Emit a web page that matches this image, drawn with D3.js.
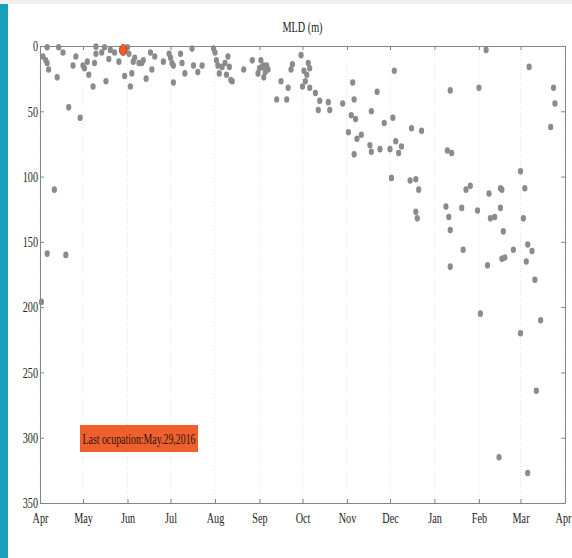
<!DOCTYPE html>
<html>
<head>
<meta charset="utf-8">
<script src="https://cdnjs.cloudflare.com/ajax/libs/d3/7.8.5/d3.min.js"></script>
<style>
  html, body { margin: 0; padding: 0; background: #fff; }
  text { font-family: "Liberation Serif", "Times New Roman", serif; fill: #222; }
</style>
</head>
<body>
<div id="chart"></div>
<script>
// MLD observations (date, depth in m)
var obsDates = [
  "2015-04-03","2015-04-05","2015-04-06","2015-04-07","2015-04-06","2015-04-14","2015-04-17","2015-04-13",
  "2015-04-21","2015-04-29","2015-04-24","2015-04-26","2015-05-01","2015-05-02","2015-05-04","2015-05-05",
  "2015-05-08","2015-05-10","2015-05-10","2015-05-09","2015-05-14","2015-05-16","2015-05-17","2015-05-19",
  "2015-05-20","2015-05-23","2015-05-26","2015-05-30","2015-06-01","2015-06-02","2015-06-03","2015-06-04",
  "2015-06-05","2015-06-06","2015-06-09","2015-06-12","2015-06-11","2015-06-14","2015-06-17","2015-06-18",
  "2015-06-20","2015-06-26","2015-06-30","2015-07-01","2015-07-02","2015-07-03","2015-07-03","2015-07-08",
  "2015-07-09","2015-07-11","2015-07-16","2015-07-17","2015-07-20","2015-07-23","2015-07-31","2015-08-01",
  "2015-08-02","2015-08-03","2015-08-04","2015-08-06","2015-08-08","2015-08-10","2015-08-09","2015-08-11",
  "2015-08-12","2015-08-13","2015-08-21","2015-08-27","2015-09-02","2015-09-03","2015-09-01","2015-08-31",
  "2015-09-04","2015-09-05","2015-09-06","2015-09-07","2015-09-04","2015-09-16","2015-09-13","2015-09-20",
  "2015-09-21","2015-09-23","2015-09-24","2015-09-30","2015-10-02","2015-10-04","2015-10-05","2015-10-06",
  "2015-10-01","2015-10-03","2015-10-06","2015-10-10","2015-10-13","2015-10-12","2015-10-19","2015-10-20",
  "2015-10-29","2015-11-05","2015-11-06","2015-11-04","2015-11-07","2015-11-02","2015-11-08","2015-11-11",
  "2015-11-06","2015-11-18","2015-11-22","2015-11-17","2015-11-18","2015-11-24","2015-11-27","2015-12-01",
  "2015-12-03","2015-12-04","2015-12-05","2015-12-07","2015-12-09","2015-12-16","2015-12-23","2015-12-02",
  "2015-12-15","2015-12-19","2015-12-21","2015-12-19","2015-12-20","2016-01-10","2016-01-13","2016-01-12",
  "2016-01-09","2016-01-11","2016-01-12","2016-01-12","2016-01-20","2016-01-21","2016-01-23","2016-01-26",
  "2016-01-31","2016-02-01","2016-02-06","2016-02-02","2016-02-08","2016-02-09","2016-02-12","2016-02-07",
  "2016-02-16","2016-02-17","2016-02-16","2016-02-18","2016-02-17","2016-02-19","2016-02-15","2016-02-25",
  "2016-03-01","2016-03-04","2016-03-03","2016-03-06","2016-03-09","2016-03-05","2016-03-11","2016-03-15",
  "2016-03-01","2016-03-12","2016-03-06","2016-03-07","2016-03-24","2016-03-25","2016-03-22","2015-04-11",
  "2015-04-06","2015-04-19","2015-04-02"
];
var obsMld = [
  8, 11, 13, 18, 1, 1, 5, 24,
  47, 55, 15, 8, 15, 17, 12, 22,
  31, 0.5, 6, 13, 5, 1, 27, 10,
  3, 5, 12, 23, 1, 6, 31, 21,
  12, 9, 13, 11, 13, 25, 5, 18,
  8, 12, 6, 9, 13, 15, 28, 6,
  13, 21, 2, 15, 20, 15, 2, 5,
  11, 15, 21, 16, 13, 8, 22, 16,
  26, 27, 18, 11, 11, 16, 17, 21,
  24, 20, 15, 18, 15, 27, 41, 41,
  32, 18, 14, 7, 19, 22, 13, 17,
  31, 27, 32, 36, 42, 49, 43, 49,
  44, 28, 41, 53, 56, 66, 71, 68,
  83, 50, 35, 76, 81, 79, 59, 79,
  55, 19, 73, 82, 77, 63, 65, 101,
  103, 102, 110, 127, 132, 80, 82, 34,
  123, 131, 141, 169, 124, 156, 110, 107,
  126, 32, 3, 205, 113, 132, 131, 168,
  109, 110, 124, 142, 163, 162, 315, 156,
  96, 109, 132, 152, 157, 165, 179, 210,
  220, 264, 327, 16, 32, 44, 62, 110,
  159, 160, 196
];

// last occupation
var lastDate = "2015-05-29";
var lastMld = 3;
var lastLabel = "Last ocupation:May.29,2016";

var xDomain = ["2015-04-01", "2016-04-01"];
var yTicks = [0, 50, 100, 150, 200, 250, 300, 350];
var chartTitle = "MLD (m)";

var W = 572, H = 558;
var parse = d3.timeParse("%Y-%m-%d");

var svg = d3.select('#chart')
            .append('svg')
            .attr('width', W)
            .attr('height', H);

// page frame bits
svg.append('rect').attr('x', 0).attr('y', 0).attr('width', W).attr('height', 4).attr('fill', '#efefef');
svg.append('rect').attr('x', 0).attr('y', 4).attr('width', 8).attr('height', H - 4).attr('fill', '#1a9fba');

var x = d3.scaleTime()
          .domain(xDomain.map(parse))
          .range([40, 565]);

var y = d3.scaleLinear()
          .domain([0, 350])
          .range([46, 503]);

var months = x.ticks(d3.timeMonth.every(1));

// dotted vertical grid
svg.append('g')
   .selectAll('line')
   .data(months)
   .enter()
   .append('line')
     .attr('x1', d => x(d)).attr('x2', d => x(d))
     .attr('y1', y(0)).attr('y2', y(350))
     .attr('stroke', '#e4e4e4')
     .attr('stroke-dasharray', '1,2');

function styleAxis(g) {
  g.selectAll('.domain').attr('stroke', '#858585');
  g.selectAll('.tick line').attr('stroke', '#858585');
  g.selectAll('text')
   .attr('class', 'cond')
   .style('font-family', '"Liberation Serif", "Times New Roman", serif')
   .style('font-size', '15px')
   .attr('fill', '#222');
}

var xAxisG = svg.append('g')
   .attr('transform', 'translate(0,' + y(350) + ')')
   .call(d3.axisBottom(x).tickValues(months).tickFormat(d3.timeFormat('%b'))
           .tickSizeInner(-4).tickSizeOuter(0).tickPadding(9))
   .call(styleAxis);

// last label sits against the page edge
xAxisG.selectAll('.tick').filter((d, i, n) => i === n.length - 1)
      .select('text').attr('x', -2);

svg.append('g')
   .attr('transform', 'translate(0,' + y(0) + ')')
   .call(d3.axisTop(x).tickValues(months).tickFormat('')
           .tickSizeInner(-4).tickSizeOuter(0))
   .call(styleAxis);

svg.append('g')
   .attr('transform', 'translate(' + x.range()[0] + ',0)')
   .call(d3.axisLeft(y).tickValues(yTicks).tickSizeInner(-4).tickSizeOuter(0).tickPadding(2))
   .call(styleAxis);

svg.append('g')
   .attr('transform', 'translate(' + x.range()[1] + ',0)')
   .call(d3.axisRight(y).tickValues(yTicks).tickFormat('').tickSizeInner(-4).tickSizeOuter(0))
   .call(styleAxis);

svg.selectAll('.domain').attr('fill', 'none');

// title
svg.append('text')
   .attr('class', 'cond')
   .attr('x', (x.range()[0] + x.range()[1]) / 2)
   .attr('y', 32)
   .attr('text-anchor', 'middle')
   .style('font-size', '15px')
   .text(chartTitle);

// points
var obs = obsDates.map((d, i) => ({ date: parse(d), mld: obsMld[i] }));

svg.append('g')
   .selectAll('ellipse')
   .data(obs)
   .enter()
   .append('ellipse')
     .attr('cx', d => x(d.date))
     .attr('cy', d => y(d.mld))
     .attr('rx', 2.6)
     .attr('ry', 3.3)
     .attr('fill', '#8b8b8b');

svg.append('ellipse')
   .attr('cx', x(parse(lastDate)))
   .attr('cy', y(lastMld))
   .attr('rx', 3.8)
   .attr('ry', 5.5)
   .attr('fill', '#ee5a2a')
   .attr('stroke', '#b8341a')
   .attr('stroke-width', 0.8);

// annotation box
var ann = svg.append('g');
ann.append('rect')
   .attr('x', 80).attr('y', 425)
   .attr('width', 118).attr('height', 27)
   .attr('fill', '#f0602e');
ann.append('text')
   .attr('x', 139).attr('y', 444)
   .attr('text-anchor', 'middle')
   .attr('textLength', 113)
   .attr('lengthAdjust', 'spacingAndGlyphs')
   .style('font-size', '15px')
   .style('fill', '#2a160f')
   .text(lastLabel);

// condensed look of the original fonts
svg.selectAll('text.cond').each(function() {
  var w = this.getComputedTextLength();
  if (w > 0) {
    d3.select(this)
      .attr('textLength', w * 0.68)
      .attr('lengthAdjust', 'spacingAndGlyphs');
  }
});
</script>
</body>
</html>
